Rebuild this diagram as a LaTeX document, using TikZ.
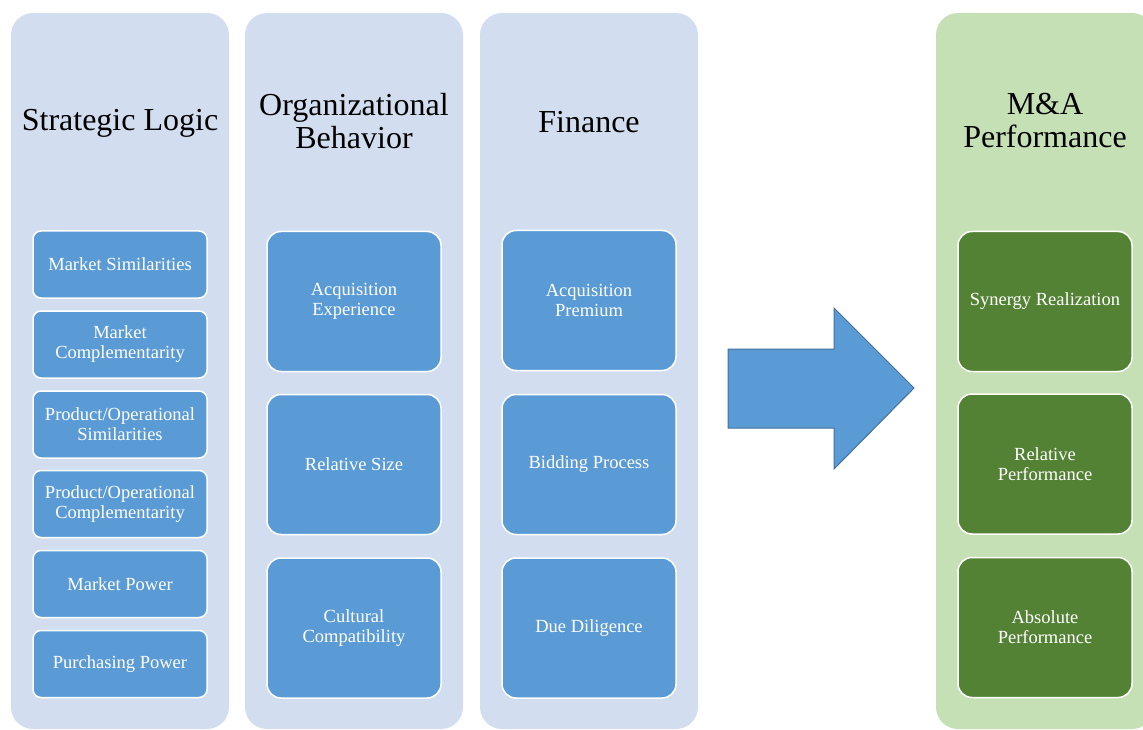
\documentclass[tikz,border=0pt]{standalone}
\usepackage{fontspec}
\setmainfont{Liberation Serif}
\definecolor{panelblue}{HTML}{D2DEEF}
\definecolor{itemblue}{HTML}{5B9BD5}
\definecolor{panelgreen}{HTML}{C5E0B4}
\definecolor{itemgreen}{HTML}{548235}
\definecolor{arrowedge}{HTML}{41719C}
\begin{document}
\begin{tikzpicture}[x=1pt, y=-1pt,
  panel/.style={rounded corners=22pt, minimum width=218pt, minimum height=716pt, inner sep=0pt},
  heading/.style={align=center, font=\fontsize{32}{33}\selectfont},
  item/.style={draw=white, line width=1.5pt, fill=itemblue, text=white, align=center,
    minimum width=174pt, inner sep=2pt, font=\fontsize{18.5}{20}\selectfont},
  small/.style={item, rounded corners=8pt, minimum height=67pt},
  large/.style={item, rounded corners=14pt, minimum height=140pt}]
%
\useasboundingbox (0,0) rectangle (1143,730);
%
\node[panel, fill=panelblue] (strategic) at (120,371) {};
\node[panel, fill=panelblue] (behavior) at (354,371) {};
\node[panel, fill=panelblue] (finance) at (589,371) {};
\node[panel, fill=panelgreen] (performance) at (1045,371) {};
%
\node[heading] (strategic title) at (120,123.5) {Strategic Logic};
\node[heading] (behavior title) at (354,121) {Organizational\\Behavior};
\node[heading] (finance title) at (589,122) {Finance};
\node[heading] (performance title) at (1045,121) {M\&A\\Performance};
%
\foreach \y/\txt [count=\i] in {264.5/{Market Similarities},
  344.5/{Market\\Complementarity},
  424.5/{Product/Operational\\Similarities},
  504/{Product/Operational\\Complementarity},
  584/{Market Power},
  664/{Purchasing Power}}
  \node[small] (strategic \i) at (120,\y) {\txt};
%
\foreach \y/\txt [count=\i] in {301.5/{Acquisition\\Experience},
  464.5/{Relative Size},
  628/{Cultural\\Compatibility}}
  \node[large] (behavior \i) at (354,\y) {\txt};
%
\foreach \y/\txt [count=\i] in {300.5/{Acquisition\\Premium},
  464.5/{Bidding Process},
  628/{Due Diligence}}
  \node[large] (finance \i) at (589,\y) {\txt};
%
\foreach \y/\txt [count=\i] in {301.5/{Synergy Realization},
  464/{Relative\\Performance},
  627.5/{Absolute\\Performance}}
  \node[large, fill=itemgreen] (performance \i) at (1045,\y) {\txt};
%
\draw[fill=itemblue, draw=arrowedge, line width=1pt]
  (728,349) -- (834,349) -- (834,308) -- (914,388)
  -- (834,469) -- (834,428) -- (728,428) -- cycle;
%
\end{tikzpicture}
\end{document}
